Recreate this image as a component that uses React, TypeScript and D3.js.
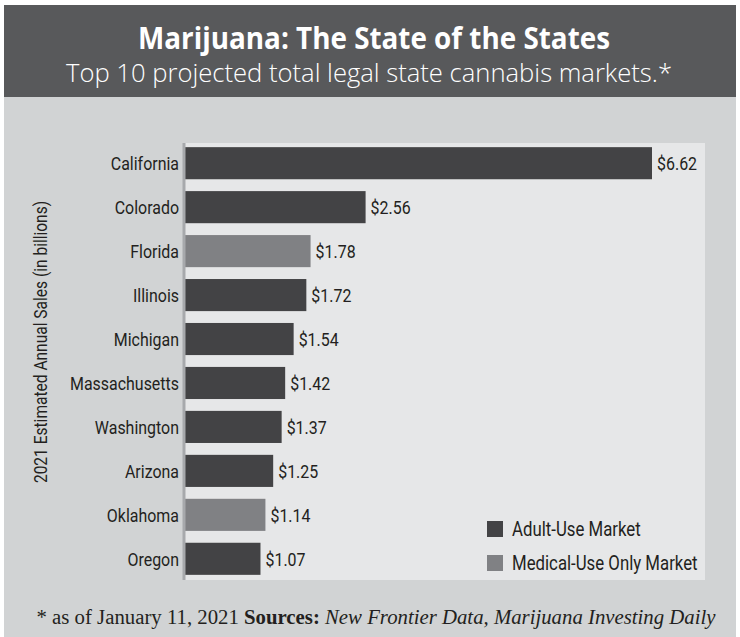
import React from "react";
import * as d3 from "d3";

const states = ["California","Colorado","Florida","Illinois","Michigan","Massachusetts","Washington","Arizona","Oklahoma","Oregon"];
const sales = [6.62,2.56,1.78,1.72,1.54,1.42,1.37,1.25,1.14,1.07];
const marketType = ["Adult","Adult","Medical","Adult","Adult","Adult","Adult","Adult","Medical","Adult"];
const legendLabels = ["Adult-Use Market","Medical-Use Only Market"];
const legendKeys = ["Adult","Medical"];

const W = 740, H = 637;
const COND = "Roboto, 'Liberation Sans', Arial, sans-serif";
const SX = 0.84;

function CText({ x, y, anchor = "start", size, children, rotate = 0 }: any) {
  return (
    <g transform={`translate(${x},${y}) rotate(${rotate}) scale(${SX},1)`}>
      <text x={0} y={0} dy="0.36em" textAnchor={anchor} fontFamily={COND} fontSize={size} fill="#231f20">{children}</text>
    </g>
  );
}

export default function App() {
  const panel = { x0: 183, x1: 705, y0: 143, y1: 580 };
  const x = d3.scaleLinear().domain([0, 6.62]).range([185, 652]);
  const y = d3.scaleBand().domain(states).range([141, 581]).paddingInner(0.27).paddingOuter(0.14);
  const color = d3.scaleOrdinal<string, string>().domain(legendKeys).range(["#434345", "#808184"]);
  return (
    <svg width={W} height={H} style={{ position: "absolute", left: 0, top: 0 }}>
      <rect x={0} y={0} width={W} height={H} fill="#ffffff" />
      <rect x={4} y={5} width={732} height={H - 5} fill="#d1d3d4" />
      <rect x={4} y={5} width={732} height={92} fill="#58595b" />
      <text x={374} y={49} textAnchor="middle" fill="#ffffff" fontFamily="'Open Sans','Noto Sans',sans-serif" fontWeight={700} fontSize={30} textLength={472} lengthAdjust="spacingAndGlyphs">Marijuana: The State of the States</text>
      <text x={369} y={82} textAnchor="middle" fill="#ffffff" fontFamily="'Open Sans','Noto Sans',sans-serif" fontWeight={300} fontSize={25} textLength={606} lengthAdjust="spacingAndGlyphs">Top 10 projected total legal state cannabis markets.*</text>
      <rect x={panel.x0} y={panel.y0} width={panel.x1 - panel.x0} height={panel.y1 - panel.y0} fill="#e6e7e8" />
      {states.map((s, i) => {
        const cy = (y(s) as number) + y.bandwidth() / 2;
        return (
          <g key={s}>
            <rect x={x(0)} y={y(s)} width={x(sales[i]) - x(0)} height={y.bandwidth()} fill={color(marketType[i])} />
            <CText x={x(sales[i]) + 5} y={cy} size={19}>{"$" + sales[i].toFixed(2)}</CText>
            <CText x={179} y={cy} anchor="end" size={19}>{s}</CText>
          </g>
        );
      })}
      <line x1={184} x2={184} y1={panel.y0} y2={panel.y1} stroke="#a7a9ac" strokeWidth={3} />
      <CText x={40} y={342} anchor="middle" size={18.5} rotate={-90}>2021 Estimated Annual Sales (in billions)</CText>
      {legendKeys.map((k, i) => (
        <g key={k}>
          <rect x={487} y={521 + i * 34} width={16} height={16} fill={color(k)} />
          <CText x={512} y={529 + i * 34} size={20}>{legendLabels[i]}</CText>
        </g>
      ))}
      <text x={376} y={624} textAnchor="middle" fontFamily="'Liberation Serif','DejaVu Serif',serif" fontSize={20} fill="#231f20" textLength={679} lengthAdjust="spacingAndGlyphs">
        <tspan>* as of January 11, 2021  </tspan>
        <tspan fontWeight={700}>Sources: </tspan>
        <tspan fontStyle="italic">New Frontier Data, Marijuana Investing Daily</tspan>
      </text>
    </svg>
  );
}
